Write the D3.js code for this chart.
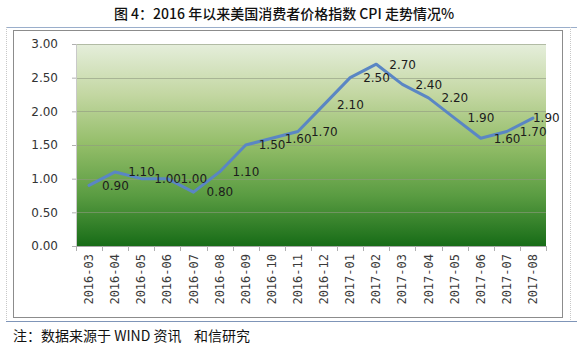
<!DOCTYPE html>
<html>
<head>
<meta charset="utf-8">
<script src="https://cdn.jsdelivr.net/npm/d3@7"></script>
<style>
  html, body { margin: 0; padding: 0; background: #fff; }
  svg { display: block; }
</style>
</head>
<body>
<svg id="chart" width="580" height="347"></svg>
<script>
const categories = ["2016-03","2016-04","2016-05","2016-06","2016-07","2016-08","2016-09","2016-10","2016-11","2016-12","2017-01","2017-02","2017-03","2017-04","2017-05","2017-06","2017-07","2017-08"];
const cpiValues = [0.90,1.10,1.00,1.00,0.80,1.10,1.50,1.60,1.70,2.10,2.50,2.70,2.40,2.20,1.90,1.60,1.70,1.90];
const yTicks = [0, 0.5, 1.0, 1.5, 2.0, 2.5, 3.0];
const titleText = "图 4：2016 年以来美国消费者价格指数 CPI 走势情况%";
const noteText = "注：数据来源于 WIND 资讯\u00a0\u00a0\u00a0\u00a0和信研究";

const svg = d3.select("#chart");
const plot = { left: 76, right: 546, top: 44, bottom: 246 };

const x = d3.scaleBand().domain(categories).range([plot.left, plot.right]).padding(0);
const y = d3.scaleLinear().domain([0, 3]).range([plot.bottom, plot.top]);
const cx = d => x(d) + x.bandwidth() / 2;

// gradient
const defs = svg.append("defs");
const grad = defs.append("linearGradient").attr("id", "bg").attr("x1", 0).attr("y1", 0).attr("x2", 0).attr("y2", 1);
[["0%", "#e5eedb"], ["25%", "#c3d7a2"], ["50%", "#93bd68"], ["75%", "#5a9c42"], ["100%", "#176c17"]]
  .forEach(([o, c]) => grad.append("stop").attr("offset", o).attr("stop-color", c));

// frames
svg.append("line").attr("x1", 6).attr("x2", 577).attr("y1", 27.5).attr("y2", 27.5).attr("stroke", "#9aaecb").attr("stroke-width", 1);
svg.append("line").attr("x1", 6).attr("x2", 577).attr("y1", 321.5).attr("y2", 321.5).attr("stroke", "#7f95b8").attr("stroke-width", 1);
svg.append("line").attr("x1", 6.5).attr("x2", 6.5).attr("y1", 27).attr("y2", 321).attr("stroke", "#c8c8c8").attr("stroke-dasharray", "1,1");
svg.append("line").attr("x1", 570.5).attr("x2", 570.5).attr("y1", 27).attr("y2", 321).attr("stroke", "#c8c8c8").attr("stroke-dasharray", "1,1");
svg.append("rect").attr("x", 13.5).attr("y", 30.5).attr("width", 549).attr("height", 287)
  .attr("fill", "#fff").attr("stroke", "#8c8c8c").attr("stroke-width", 1);

// plot background
svg.append("rect").attr("x", plot.left).attr("y", plot.top)
  .attr("width", plot.right - plot.left).attr("height", plot.bottom - plot.top)
  .attr("fill", "url(#bg)");

// gridlines
svg.append("g").selectAll("line").data(yTicks.filter(t => t > 0)).join("line")
  .attr("x1", plot.left).attr("x2", plot.right)
  .attr("y1", d => Math.round(y(d)) + 0.5).attr("y2", d => Math.round(y(d)) + 0.5)
  .attr("stroke", "#8f9a80").attr("stroke-opacity", 0.6).attr("stroke-width", 1);

// y axis
const yAxis = d3.axisLeft(y).tickValues(yTicks).tickFormat(d3.format(".2f")).tickSize(4).tickPadding(14);
const gy = svg.append("g").attr("transform", `translate(${plot.left},0)`).call(yAxis);
gy.select(".domain").attr("stroke", "#c9c9c9");
gy.selectAll(".tick line").attr("stroke", "#b0b0b0");
gy.selectAll("text").attr("font-family", "DejaVu Sans").attr("font-size", 12).attr("fill", "#333");

// x axis
const gx = svg.append("g").attr("transform", `translate(0,${plot.bottom})`);
gx.append("line").attr("x1", plot.left).attr("x2", plot.right).attr("y1", 0.5).attr("y2", 0.5).attr("stroke", "#a8a8a8");
const boundaries = d3.range(categories.length + 1).map(i => plot.left + i * x.bandwidth());
gx.selectAll(".xt").data(boundaries).join("line").attr("class", "xt")
  .attr("x1", d => Math.round(d) + 0.5).attr("x2", d => Math.round(d) + 0.5)
  .attr("y1", 0).attr("y2", 5).attr("stroke", "#b0b0b0");
gx.selectAll(".xl").data(categories).join("text").attr("class", "xl")
  .attr("transform", d => `translate(${cx(d) + 4},8) rotate(-90)`)
  .attr("text-anchor", "end")
  .attr("font-family", "DejaVu Sans Mono").attr("font-size", 12).attr("fill", "#3a3a3a")
  .text(d => d);

// line
const line = d3.line().x((d, i) => cx(categories[i])).y(d => y(d));
svg.append("path").datum(cpiValues).attr("d", line)
  .attr("fill", "none").attr("stroke", "#5a86c4").attr("stroke-width", 3)
  .attr("stroke-linejoin", "round").attr("stroke-linecap", "round");

// data labels
svg.append("g").selectAll("text").data(cpiValues).join("text")
  .attr("x", (d, i) => cx(categories[i]) + (i === cpiValues.length - 1 ? 0 : 13))
  .attr("y", d => y(d))
  .attr("dy", "0.36em")
  .attr("font-family", "DejaVu Sans").attr("font-size", 12).attr("fill", "#1c1c1c")
  .text(d => d.toFixed(2));

// title
svg.append("text").attr("x", 284).attr("y", 19).attr("text-anchor", "middle")
  .attr("font-family", "Noto Sans CJK SC").attr("font-size", 14).attr("font-weight", 500).attr("fill", "#111")
  .text(titleText);

// note
svg.append("text").attr("x", 13).attr("y", 341)
  .attr("font-family", "Noto Sans CJK SC").attr("font-size", 14).attr("fill", "#111")
  .text(noteText);
</script>
</body>
</html>
